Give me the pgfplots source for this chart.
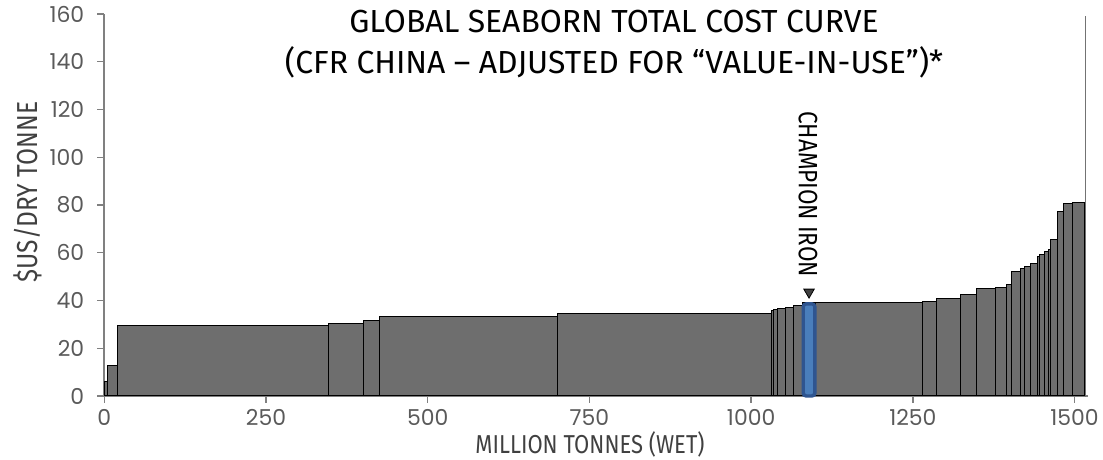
\documentclass[border=0pt]{standalone}
\usepackage{pgfplots}
\pgfplotsset{compat=1.18}
\usepackage{pgfplotstable}
\usepackage{fontspec}
\setmainfont{Liberation Sans}
\newfontfamily\condfont[FakeStretch=0.85]{Fira Sans}
\newfontfamily\headfont{Fira Sans}
\newfontfamily\tickfont{Poppins}
\definecolor{bargray}{HTML}{6E6E6E}
\definecolor{axisgray}{HTML}{808080}
\definecolor{labgray}{HTML}{5A5A5A}
\definecolor{titlegray}{HTML}{404040}
\definecolor{champfill}{HTML}{4A7EBB}
\definecolor{champedge}{HTML}{2F5590}

% Cost curve: left edge of each producer block (Mt, cumulative) and its cost (US$/dmt).
% The last row only closes the final interval.
\pgfplotstableread{
x       y
0       6
4.6     12.7
20      29.5
347     30.4
400     31.5
426     33.4
701     34.7
1032    35.7
1035    36.3
1040    36.7
1053    37.1
1066    37.8
1079    39.2
1100    39.0
1265    39.4
1286    41.0
1324    42.4
1348    44.9
1378    45.4
1394    46.9
1403    52.3
1417    53.5
1422    54.4
1432    55.5
1442    58.3
1446    59.1
1454    60.4
1459    61.5
1463    65.6
1474    77.3
1483    80.7
1497    81.2
1516    81.2
}\costcurve

\begin{document}
\begin{tikzpicture}
\useasboundingbox (0,0) rectangle (551.5bp,230bp);
\begin{axis}[
  at={(52.15bp,32bp)}, anchor=south west,
  width=491.6bp, height=191bp, scale only axis,
  xmin=0, xmax=1520, ymin=0, ymax=160,
  axis x line=bottom, axis y line=left,
  axis line style={-, draw=axisgray, line width=0.8bp},
  xtick={0,250,...,1500}, ytick={0,20,...,160},
  tick align=outside, major tick length=3.5bp,
  tick style={draw=axisgray, line width=0.7bp},
  ticklabel style={font=\tickfont\fontsize{11}{13}\selectfont, text=labgray},
  yticklabel style={xshift=-3bp},
  xticklabel style={yshift=0.5bp},
  /pgf/number format/assume math mode=true,
  /pgf/number format/1000 sep={},
  clip=false,
]
\addplot[ybar interval, fill=bargray, draw=black, line width=0.5bp] table {\costcurve};
% two tiny high-cost producers at the end of the curve
\addplot[ybar interval, fill=black!80, draw=black!80, line width=0.4bp]
  coordinates {(1516,88.5) (1516.8,88.5)};
\addplot[ybar interval, fill=black!55, draw=black!55, line width=0.4bp]
  coordinates {(1516.8,159) (1517.4,159)};
% highlighted producer
\addplot[ybar interval, fill=champfill, draw=champedge, line width=1.7bp, rounded corners=1.5bp]
  coordinates {(1080.5,38.6) (1098.5,38.6)};
\addplot[only marks, mark=triangle*, mark size=3bp,
  mark options={rotate=180, fill=black!75, draw=none}] coordinates {(1089.5,43.5)};
\node[rotate=-90, font=\condfont\fontsize{13.3}{15}\selectfont, text=black]
  at (axis cs:1088,84.5) {CHAMPION IRON};
\end{axis}
\node[font=\headfont\fontsize{16}{18}\selectfont, text=black] at (307bp,219bp)
  {GLOBAL SEABORN TOTAL COST CURVE};
\node[font=\headfont\fontsize{16}{18}\selectfont, text=black] at (307bp,199bp)
  {(CFR CHINA – ADJUSTED FOR “VALUE-IN-USE”)*};
\node[rotate=90, font=\condfont\fontsize{14.5}{16}\selectfont, text=titlegray] at (14bp,134bp)
  {\$US/DRY TONNE};
\node[font=\condfont\fontsize{13}{15}\selectfont, text=titlegray] at (295bp,8bp)
  {MILLION TONNES (WET)};
\end{tikzpicture}
\end{document}
